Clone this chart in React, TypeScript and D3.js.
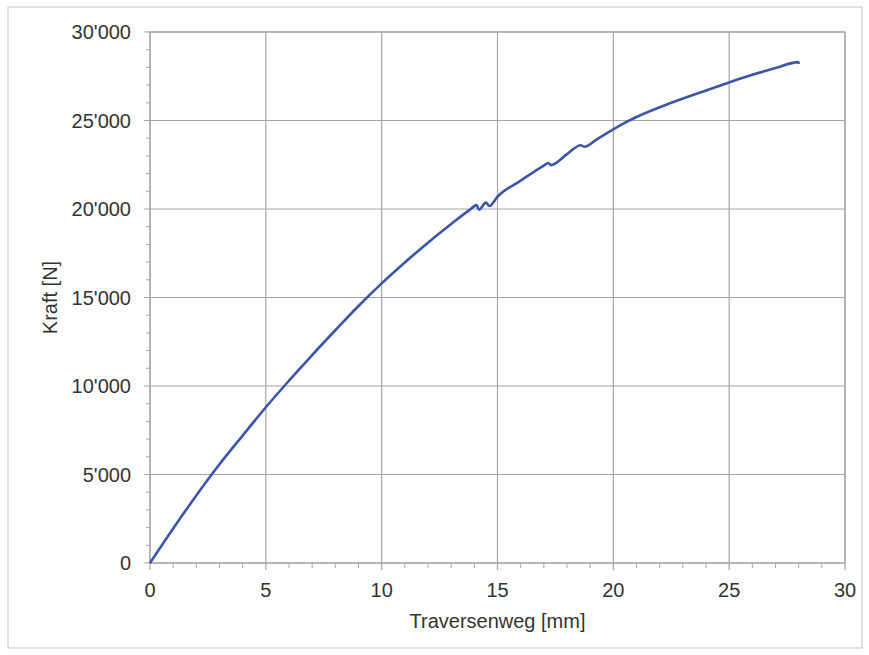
import React from "react"
import * as d3 from "d3"

// Traversenweg [mm]
const weg = [
  0, 1, 2, 3, 4, 5, 6, 7, 8, 9, 10, 11, 12, 13, 13.8, 14.1, 14.2, 14.5, 14.65, 15, 16, 17, 17.2,
  17.3, 18, 18.6, 18.75, 19.3, 20, 20.57, 21, 22.5, 24, 25, 26, 27, 27.98, 28.02,
]
// Kraft [N]
const kraft = [
  0, 1950, 3820, 5580, 7200, 8800, 10300, 11750, 13150, 14520, 15800, 16980, 18100, 19150, 19950,
  20220, 19960, 20360, 20170, 20700, 21600, 22450, 22600, 22480, 23100, 23600, 23520, 23950,
  24500, 24920, 25200, 26000, 26700, 27150, 27580, 27960, 28300, 28200,
]

const xTicks = [0, 5, 10, 15, 20, 25, 30]
const yTicks = [0, 5000, 10000, 15000, 20000, 25000, 30000]
const yTickLabels = ["0", "5'000", "10'000", "15'000", "20'000", "25'000", "30'000"]

const App = () => {
  const width = 869
  const height = 655
  const left = 150
  const right = 845
  const top = 32
  const bottom = 563
  const gridColor = "#a3a6a8"
  const font = "'Liberation Sans', Arial, sans-serif"

  const x = d3.scaleLinear().domain([0, 30]).range([left, right])
  const y = d3.scaleLinear().domain([0, 30000]).range([bottom, top])

  const minorX = d3.range(0, 31, 1).filter((v) => v % 5 !== 0)
  const minorY = d3.range(0, 30001, 1000).filter((v) => v % 5000 !== 0)

  const line = d3
    .line<number>()
    .x((d) => x(d))
    .y((_, i) => y(kraft[i]))
    .curve(d3.curveMonotoneX)

  return (
    <svg
      width={width}
      height={height}
      style={{ position: "absolute", left: 0, top: 0, background: "#fff" }}
    >
      <rect x={8} y={7} width={854} height={641} fill="none" stroke="#c4c6c8" strokeWidth={1} />
      {xTicks.map((t) => (
        <line key={"gx" + t} x1={x(t)} x2={x(t)} y1={top} y2={bottom + 7} stroke={gridColor} strokeWidth={1.2} />
      ))}
      {yTicks.map((t) => (
        <line key={"gy" + t} x1={left - 6} x2={right} y1={y(t)} y2={y(t)} stroke={gridColor} strokeWidth={1.2} />
      ))}
      {minorX.map((t) => (
        <line key={"mx" + t} x1={x(t)} x2={x(t)} y1={bottom} y2={bottom + 5} stroke={gridColor} strokeWidth={1} />
      ))}
      {minorY.map((t) => (
        <line key={"my" + t} x1={left - 4} x2={left} y1={y(t)} y2={y(t)} stroke={gridColor} strokeWidth={1} />
      ))}
      <rect x={left} y={top} width={right - left} height={bottom - top} fill="none" stroke={gridColor} strokeWidth={1.2} />
      <path d={line(weg) || ""} fill="none" stroke="#3b55a9" strokeWidth={2.6} strokeLinejoin="round" />
      {xTicks.map((t) => (
        <text key={"tx" + t} x={x(t)} y={bottom + 34} textAnchor="middle" fontFamily={font} fontSize={20} fill="#333">
          {t}
        </text>
      ))}
      {yTicks.map((t, i) => (
        <text key={"ty" + t} x={left - 19} y={y(t) + 7} textAnchor="end" fontFamily={font} fontSize={20} fill="#333">
          {yTickLabels[i]}
        </text>
      ))}
      <text x={(left + right) / 2} y={628} textAnchor="middle" fontFamily={font} fontSize={20} fill="#333">
        Traversenweg [mm]
      </text>
      <text
        transform={`translate(57, ${(top + bottom) / 2}) rotate(-90)`}
        textAnchor="middle"
        fontFamily={font}
        fontSize={20}
        fill="#333"
      >
        Kraft [N]
      </text>
    </svg>
  )
}

export default App
